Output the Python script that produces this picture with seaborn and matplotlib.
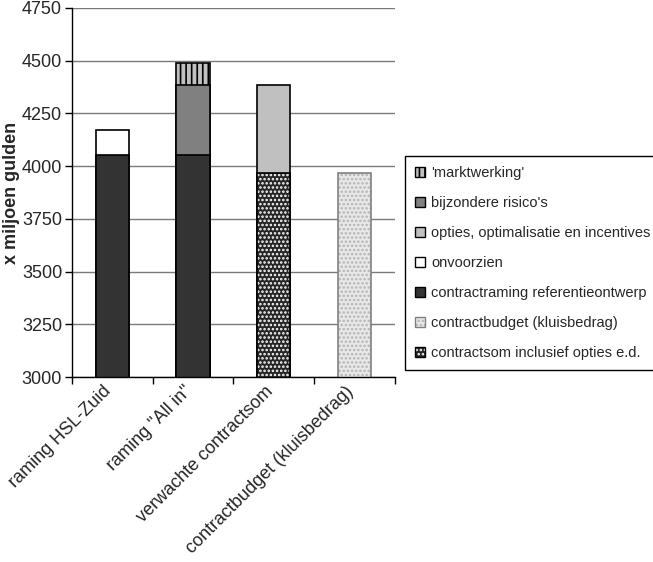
import numpy as np
import matplotlib
matplotlib.use("Agg")
import matplotlib.pyplot as plt
import matplotlib.transforms as mtransforms
import seaborn as sns
from matplotlib.patches import Patch

# Gegevens (x miljoen gulden)
categorieen = ['raming HSL-Zuid', 'raming "All in"', 'verwachte contractsom', 'contractbudget (kluisbedrag)']
contractraming = [4055, 4055, 0, 0]
contractsom = [0, 0, 3965, 0]
contractbudget = [0, 0, 0, 3965]
onvoorzien = [115, 0, 0, 0]
bijzondere_risicos = [0, 330, 0, 0]
opties = [0, 0, 420, 0]
marktwerking = [0, 105, 0, 0]

sns.set_style("white")
plt.rcParams["font.family"] = ["Liberation Sans", "DejaVu Sans"]
plt.rcParams["hatch.linewidth"] = 1.2

fig = plt.figure(figsize=(6.53, 5.62), dpi=100)
ax = fig.add_axes([0.110, 0.329, 0.495, 0.657])

# lagen van onder naar boven: (naam, waarden, vulkleur, hatch, hatchkleur, randkleur)
lagen = [
    ("contractraming referentieontwerp", contractraming, "#333333", None, None, "black"),
    ("contractsom inclusief opties e.d.", contractsom, "#262626", "....", "white", "black"),
    ("contractbudget (kluisbedrag)", contractbudget, "#e8e8e8", "....", "#b4b4b4", "#808080"),
    ("onvoorzien", onvoorzien, "white", None, None, "black"),
    ("bijzondere risico's", bijzondere_risicos, "#808080", None, None, "black"),
    ("opties, optimalisatie en incentives", opties, "#c0c0c0", None, None, "black"),
    ("'marktwerking'", marktwerking, "#c0c0c0", "|||", "black", "black"),
]

cum = np.zeros(len(categorieen))
tops = []
for naam, vals, *_ in lagen:
    cum = cum + np.array(vals, dtype=float)
    tops.append(np.where(np.array(vals) > 0, cum, np.nan))

# bovenste lagen eerst tekenen, lagere lagen eroverheen
for (naam, vals, kleur, hatch, hkleur, rand), top in reversed(list(zip(lagen, tops))):
    n0 = len(ax.patches)
    sns.barplot(x=categorieen, y=top, order=categorieen, color=kleur,
                width=0.41, saturation=1, ax=ax)
    for p in ax.patches[n0:]:
        p.set_facecolor(kleur)
        if hatch:
            p.set_hatch(hatch)
            p.set_edgecolor(hkleur)
            p.set_linewidth(0)
        else:
            p.set_edgecolor(rand)
            p.set_linewidth(1.2)
    if hatch:
        n1 = len(ax.patches)
        sns.barplot(x=categorieen, y=top, order=categorieen, color=kleur,
                    width=0.41, saturation=1, ax=ax)
        for p in ax.patches[n1:]:
            p.set_facecolor("none")
            p.set_edgecolor(rand)
            p.set_linewidth(1.2)

ax.set_ylim(3000, 4750)
ax.set_xlim(-0.5, len(categorieen) - 0.5)
ax.set_yticks(np.arange(3000, 4751, 250))
ax.yaxis.grid(True, color="#7a7a7a", linewidth=1)
ax.set_axisbelow(True)
for s in ["top", "right"]:
    ax.spines[s].set_visible(False)
for s in ["left", "bottom"]:
    ax.spines[s].set_color("black")
    ax.spines[s].set_linewidth(1)

ax.set_ylabel("x miljoen gulden", fontsize=13, fontweight="bold", labelpad=1)
ax.set_xlabel("")
ax.tick_params(axis="y", labelsize=13, length=5, width=1, left=True, color="black", pad=2)
ax.tick_params(axis="x", which="major", length=0, labelsize=13, pad=4)
ax.set_xticks(np.arange(-0.5, len(categorieen)), minor=True)
ax.tick_params(axis="x", which="minor", length=5, width=1, bottom=True, color="black")
verschuiving = mtransforms.ScaledTranslation(-7 / 72, 0, fig.dpi_scale_trans)
for lab in ax.get_xticklabels():
    lab.set_rotation(45)
    lab.set_ha("right")
    lab.set_va("top")
    lab.set_rotation_mode("anchor")
    lab.set_transform(lab.get_transform() + verschuiving)

# legenda
hmap = {}
for naam, vals, kleur, hatch, hkleur, rand in lagen:
    if hatch:
        hmap[naam] = (Patch(facecolor=kleur, edgecolor=hkleur, hatch=hatch, linewidth=0),
                      Patch(facecolor="none", edgecolor=rand, linewidth=1))
    else:
        hmap[naam] = Patch(facecolor=kleur, edgecolor=rand, linewidth=1)
volgorde = ["'marktwerking'", "bijzondere risico's", "opties, optimalisatie en incentives",
            "onvoorzien", "contractraming referentieontwerp", "contractbudget (kluisbedrag)",
            "contractsom inclusief opties e.d."]
leg = fig.legend([hmap[v] for v in volgorde], volgorde, loc="center left",
                 bbox_to_anchor=(0.620, 0.532), fontsize=10.5, frameon=True,
                 fancybox=False, edgecolor="black", framealpha=1,
                 handlelength=0.7, handleheight=0.7, handletextpad=0.4,
                 labelspacing=1.1, borderpad=0.7, borderaxespad=0)
leg.get_frame().set_linewidth(1)

fig.savefig("out.png", dpi=100)
